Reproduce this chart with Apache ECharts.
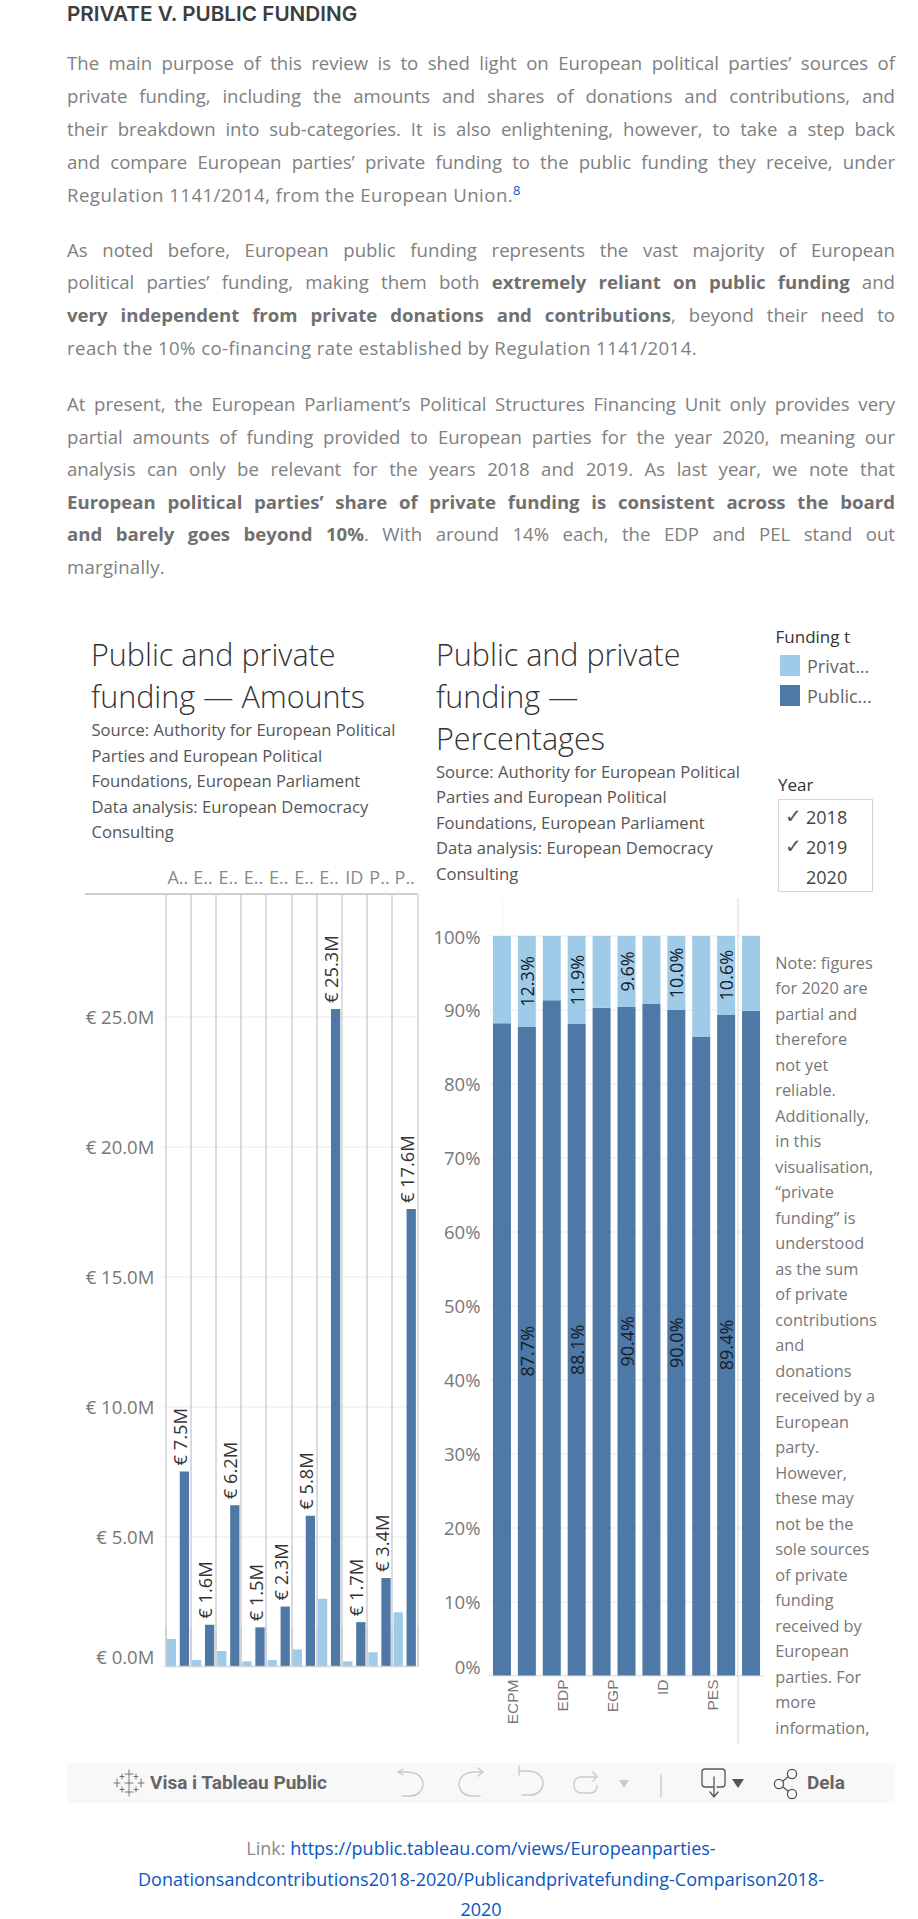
<!DOCTYPE html>
<html><head><meta charset="utf-8">
<script src="https://cdn.jsdelivr.net/npm/echarts@6/dist/echarts.min.js"></script>
<style>
html,body{margin:0;padding:0;background:#fff;}
#page{position:relative;width:918px;height:1919px;overflow:hidden;font-family:"Open Sans",sans-serif;}
#chart{position:absolute;left:0;top:0;width:918px;height:1919px;}
.abs{position:absolute;white-space:nowrap;}
.l{position:absolute;left:67px;width:828px;height:33px;line-height:33px;font-size:18.6px;color:#808080;text-align:justify;text-align-last:justify;white-space:nowrap;}
.l.end{text-align-last:left;}
.l b{color:#707070;font-weight:700;}
.t{position:absolute;font-family:"Open Sans",sans-serif;font-weight:300;font-size:30.5px;color:#333;white-space:nowrap;line-height:42px;height:42px;}
.s{position:absolute;font-family:"Open Sans",sans-serif;font-size:16.6px;color:#555;white-space:nowrap;line-height:26px;height:26px;}
.n{position:absolute;left:775.3px;width:103px;overflow:hidden;font-family:"Open Sans",sans-serif;font-size:16.3px;color:#777;white-space:nowrap;line-height:26px;height:26px;}
a,sup{color:#0a56c2;text-decoration:none;}
#bar{position:absolute;left:67px;top:1763px;width:828px;height:40px;background:#f8f8f8;}
.f{position:absolute;left:67px;width:828px;text-align:center;font-size:18px;line-height:30px;height:30px;color:#888;white-space:nowrap;}
</style></head><body>
<div id="page">
<div id="chart"></div>
<div class="abs" style="left:67px;top:0;font:600 20.7px/27px Inter,sans-serif;color:#3d3d3d;">PRIVATE V. PUBLIC FUNDING</div>

<div class="abs" style="left:775.5px;top:626px;font:500 17px/22px 'Open Sans',sans-serif;color:#333;">Funding t</div>
<div class="abs" style="left:778px;top:774px;font:500 17px/22px 'Open Sans',sans-serif;color:#333;">Year</div>
<div class="abs" style="left:778px;top:799px;width:93px;height:91px;border:1.5px solid #d4d4d4;"></div>
<div class="abs" style="left:806px;top:805px;font:18px/24px 'Open Sans',sans-serif;color:#444;">2018</div>
<div class="abs" style="left:806px;top:835px;font:18px/24px 'Open Sans',sans-serif;color:#444;">2019</div>
<div class="abs" style="left:806px;top:865px;font:18px/24px 'Open Sans',sans-serif;color:#444;">2020</div>
<div class="abs" style="left:785px;top:804px;font:20px/24px 'DejaVu Sans';color:#555;">✓</div>
<div class="abs" style="left:785px;top:834px;font:20px/24px 'DejaVu Sans';color:#555;">✓</div>

<div id="bar">
<svg width="828" height="40" style="position:absolute;left:0;top:0" fill="none" stroke-linecap="round">
 <g stroke="#666" stroke-width="0.9" fill="#666" transform="translate(62,20)">
  <path d="M0,-13V-5M-4,-9H4M0,5V13M-4,9H4M-12,-4V4M-15,0H-9M12,-4V4M9,0H15M-7,-9V-4M-9,-6.5H-5M7,-9V-4M5,-6.5H9M-7,4V9M-9,6.5H-5M7,4V9M5,6.5H9M0,-4V4M-4,0H4"/>
 </g>
 <g stroke="#c9c9c9" stroke-width="1.4">
  <path d="M332,8H340C350,8 356,13 356,20C356,27 350,32 344,32H335M336,5L331,8L336,11" transform="translate(0,1)"/>
  <path d="M416,9H408C398,9 392,14 392,21C392,28 398,33 404,33H413M411,5L416,9L411,13"/>
  <path d="M452,8H460C470,8 476,13 476,20C476,27 470,32 464,32H455M452,3V12"/>
  <path d="M528,14H514C509,14 507,18 507,22C507,26 509,30 514,30H524C528,30 530,26 530,23M526,9L530,14L526,18"/>
  <path d="M594,12V34" stroke="#ccc"/>
 </g>
 <path d="M552,17H562L557,25Z" fill="#c9c9c9"/>
 <g stroke="#555" stroke-width="1.3">
  <path d="M646,24H638C636,24 635,23 635,21V9C635,7 636,6 638,6H655C657,6 658,7 658,9V21C658,23 657,24 655,24H650M647,14V34M643,29L647,34L651,29"/>
  <circle cx="712" cy="21" r="4.6"/><circle cx="725" cy="11" r="4.6"/><circle cx="725" cy="31" r="4.6"/>
  <path d="M716,18L721,14M716,24L721,28"/>
 </g>
 <path d="M665,16H677L671,25Z" fill="#555"/>
</svg>
<div class="abs" style="left:83px;top:0;font:700 19px/40px Roboto,sans-serif;color:#666;">Visa i Tableau Public</div>
<div class="abs" style="left:740px;top:0;font:700 19px/40px Roboto,sans-serif;color:#666;">Dela</div>
</div>

<div class="f" style="top:1833px;">Link: <a>https://public.tableau.com/views/Europeanparties-</a></div>
<div class="f" style="top:1864px;"><a>Donationsandcontributions2018-2020/Publicandprivatefunding-Comparison2018-</a></div>
<div class="f" style="top:1894px;"><a>2020</a></div>
</div>
<script>
// ---- data ----
const parties = ['ALDE','ECPM','ECR','EDP','EFA','EGP','EPP','ID','PEL','PES'];
const amountPrivate = [1.05,0.24,0.59,0.19,0.24,0.65,2.6,0.19,0.54,2.08];
const amountPublic  = [7.5,1.6,6.2,1.5,2.3,5.8,25.3,1.7,3.4,17.6];
const shareCategories = ['ALDE','ECPM','ECR','EDP','EFA','EGP','EPP','ID','PEL','PES',' '];
const sharePublic  = [88.2,87.7,91.3,88.1,90.3,90.4,90.8,90.0,86.4,89.4,89.9];
const sharePrivate = [11.8,12.3,8.7,11.9,9.7,9.6,9.2,10.0,13.6,10.6,10.1];
const labelledShares = [1,3,5,7,9];
const labelShift = 0.56;
const seriesNames = ['Private funding','Public funding'];
const colors = ['#a0cbe8','#4e79a7'];

const para1 = ['The main purpose of this review is to shed light on European political parties’ sources of',
 'private funding, including the amounts and shares of donations and contributions, and',
 'their breakdown into sub-categories. It is also enlightening, however, to take a step back',
 'and compare European parties’ private funding to the public funding they receive, under',
 'Regulation 1141/2014, from the European Union.<sup style="font-size:13px;line-height:0;">8</sup>'];
const para2 = ['As noted before, European public funding represents the vast majority of European',
 'political parties’ funding, making them both <b>extremely reliant on public funding</b> and',
 '<b>very independent from private donations and contributions</b>, beyond their need to',
 'reach the 10% co-financing rate established by Regulation 1141/2014.'];
const para3 = ['At present, the European Parliament’s Political Structures Financing Unit only provides very',
 'partial amounts of funding provided to European parties for the year 2020, meaning our',
 'analysis can only be relevant for the years 2018 and 2019. As last year, we note that',
 '<b>European political parties’ share of private funding is consistent across the board</b>',
 '<b>and barely goes beyond 10%</b>. With around 14% each, the EDP and PEL stand out',
 'marginally.'];
const source = ['Source: Authority for European Political','Parties and European Political','Foundations, European Parliament','Data analysis: European Democracy','Consulting'];
const note = ['Note: figures','for 2020 are','partial and','therefore','not yet','reliable.','Additionally,','in this','visualisation,','“private','funding” is','understood','as the sum','of private','contributions','and','donations','received by a','European','party.','However,','these may','not be the','sole sources','of private','funding','received by','European','parties. For','more','information,'];

// ---- static text ----
const page = document.getElementById('page');
function add(cls, html, style){ const d=document.createElement('div'); d.className=cls; d.innerHTML=html; d.style.cssText=style; page.appendChild(d); return d; }
function para(lines, top, step, lastWidth){
 lines.forEach((s,i)=>{
  const last=i==lines.length-1;
  const d=add('l'+(last?' end':''), s, 'top:'+(top+i*step-16.5)+'px');
  // fit each line into the measured text column
  d.style.textAlignLast='left';
  const r=document.createRange(); r.selectNodeContents(d);
  const w=r.getBoundingClientRect().width, n=d.textContent.length;
  if(last) d.style.letterSpacing=((lastWidth-w)/n)+'px';
  else { if(w>826) d.style.letterSpacing=((826-w)/n)+'px'; d.style.textAlignLast='justify'; }
 });
}
para(para1,62,33,454); para(para2,249,32.7,630); para(para3,403.5,32.6,98);
[['Public and private',654],['funding — Amounts',696]].forEach(a=>add('t',a[0],'left:91px;top:'+(a[1]-21)+'px'));
[['Public and private',654],['funding —',696],['Percentages',738]].forEach(a=>add('t',a[0],'left:436px;top:'+(a[1]-21)+'px'));
source.forEach((s,i)=>{ add('s',s,'left:91.5px;top:'+(730+i*25.5-13)+'px'); add('s',s,'left:436px;top:'+(771.5+i*25.5-13)+'px'); });
note.forEach((s,i)=>add('n',s,'top:'+(962.5+i*25.5-13)+'px'));

// ---- chart ----
const grey='#777';
const axisFont={fontFamily:'Open Sans,sans-serif',fontSize:18.5,color:grey};
const chart = echarts.init(document.getElementById('chart'),null,{renderer:'svg'});
chart.setOption({
 animation:false,
 legend:{left:780,top:655,padding:0,orient:'vertical',itemWidth:20,itemHeight:21,itemGap:9,
   icon:'rect',data:seriesNames,formatter:n=>n.slice(0,6)+'...',
   selectedMode:false,textStyle:{fontFamily:'Open Sans,sans-serif',fontSize:18,color:'#666',padding:[0,0,0,2]}},
 grid:[{left:165.3,top:894,width:252,height:772.3},{left:489.5,top:898,width:274,height:777.5}],
 xAxis:[
  {type:'category',gridIndex:0,position:'top',data:parties,
   axisLine:{show:false},
   axisTick:{show:true,length:38,lineStyle:{color:'#cfcfcf',width:1.5}},
   splitLine:{show:true,interval:0,lineStyle:{color:'#cfcfcf',width:1.5}},
   axisLabel:{interval:0,margin:8,fontFamily:'Open Sans,sans-serif',fontSize:18,color:'#888',
     formatter:n=>n.length>2?n[0]+'..':n}},
  {type:'category',gridIndex:1,position:'bottom',data:shareCategories,
   axisLine:{show:true,lineStyle:{color:'#e3e3e3'}},axisTick:{show:false},axisLabel:{show:false}},
  {type:'value',gridIndex:1,position:'bottom',min:-0.5,max:shareCategories.length-0.5,
   axisLine:{show:false},axisTick:{show:false},splitLine:{show:false},
   axisLabel:{rotate:90,margin:4,fontFamily:'Liberation Sans,sans-serif',fontSize:15.5,color:grey,
     customValues:labelledShares.map(i=>i-labelShift),
     formatter:v=>shareCategories[Math.round(v+labelShift)]}}
 ],
 yAxis:[
  {type:'value',gridIndex:0,min:0,max:29.73,interval:5,
   axisLine:{show:false},axisTick:{show:true,length:6,lineStyle:{color:'#f1f1f1'}},
   splitLine:{showMaxLine:false,lineStyle:{color:'#f1f1f1',width:1.5}},
   axisLabel:Object.assign({margin:11,showMaxLabel:false,verticalAlignMinLabel:'bottom',formatter:v=>'€ '+v.toFixed(1)+'M'},axisFont)},
  {type:'value',gridIndex:1,min:0,max:105.14,interval:10,
   axisLine:{show:true,lineStyle:{color:'#f3f3f3'}},axisTick:{show:true,length:7,lineStyle:{color:'#f1f1f1'}},
   splitLine:{showMaxLine:false,lineStyle:{color:'#f1f1f1',width:1.5}},
   axisLabel:Object.assign({margin:9,showMaxLabel:false,verticalAlignMinLabel:'bottom',formatter:v=>v+'%'},axisFont)}
 ],
 series:[
  {name:seriesNames[0],type:'bar',xAxisIndex:0,yAxisIndex:0,data:amountPrivate,barWidth:9.3,barGap:'40%',itemStyle:{color:colors[0]}},
  {name:seriesNames[1],type:'bar',xAxisIndex:0,yAxisIndex:0,data:amountPublic,barWidth:9.3,barGap:'40%',itemStyle:{color:colors[1]},
   label:{show:true,position:'top',rotate:90,align:'left',verticalAlign:'middle',distance:5,offset:[1,-5],
     fontFamily:'Open Sans,sans-serif',fontSize:18.3,color:'#333',formatter:p=>'€ '+p.value.toFixed(1)+'M'}},
  {name:seriesNames[1],type:'bar',xAxisIndex:1,yAxisIndex:1,stack:'s',data:sharePublic,barWidth:18,itemStyle:{color:colors[1]},
   label:{show:true,position:'inside',rotate:90,fontFamily:'Open Sans,sans-serif',fontSize:18,color:'#14202c',
     formatter:p=>labelledShares.includes(p.dataIndex)?p.value.toFixed(1)+'%':''}},
  {name:seriesNames[0],type:'bar',xAxisIndex:1,yAxisIndex:1,stack:'s',data:sharePrivate,barWidth:18,itemStyle:{color:colors[0]},
   label:{show:true,position:'inside',rotate:90,fontFamily:'Open Sans,sans-serif',fontSize:18,color:'#14202c',
     formatter:p=>labelledShares.includes(p.dataIndex)?p.value.toFixed(1)+'%':''}}
 ],
 graphic:[
  {type:'line',shape:{x1:85,y1:894,x2:417.5,y2:894},style:{stroke:'#cfcfcf',lineWidth:2},z:5},
  {type:'line',shape:{x1:165,y1:1666.3,x2:417.5,y2:1666.3},style:{stroke:'#cfcfcf',lineWidth:1},z:5},
  {type:'line',shape:{x1:738,y1:898,x2:738,y2:1744},style:{stroke:'#dcdcdc',lineWidth:1.2},z:5}
 ]
});
</script>
</body></html>
